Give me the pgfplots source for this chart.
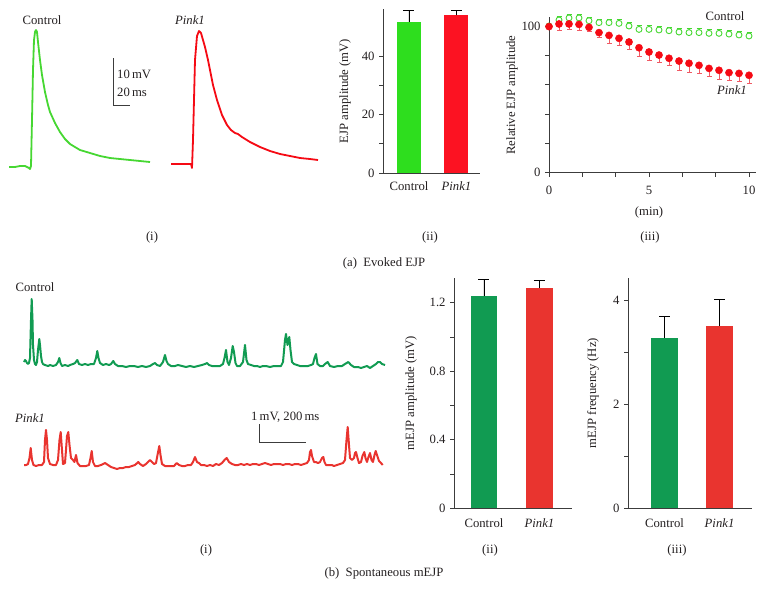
\documentclass[border=0pt]{standalone}
\usepackage{pgfplots}
\pgfplotsset{compat=1.18}
\usepackage{fontspec}
\setmainfont{Liberation Serif}
\definecolor{agreen}{RGB}{46,222,30}
\definecolor{ared}{RGB}{252,18,34}
\definecolor{bgreen}{RGB}{17,155,82}
\definecolor{bred}{RGB}{233,52,47}
\definecolor{tgreen}{RGB}{70,215,50}
\definecolor{tred}{RGB}{245,10,20}
\definecolor{perr}{RGB}{240,90,100}
\definecolor{axgray}{RGB}{60,60,60}
\definecolor{txt}{RGB}{35,31,32}
\pgfplotsset{
  panel/.style={scale only axis, axis lines=left, enlargelimits=false, clip=false,
    axis line style={-, line width=0.8pt, color=axgray},
    tick style={line width=0.8pt, color=axgray},
    major tick length=4pt, minor tick length=4pt, tick align=outside,
    tick label style={font=\fontsize{12.7}{15}\selectfont, color=txt},
    xtick style={draw=none}},
  barerr/.style={error bars/.cd, y dir=plus, y explicit,
    error bar style={black, line width=0.8pt},
    error mark options={rotate=90, mark size=5.5pt, black, line width=0.8pt}}
}
\pgfplotstableread{
t   v     e
0   100   0
0.5 104.1 2.2
1   105.5 2.5
1.5 105.5 2.5
2   103.6 2.5
2.5 102.3 2.5
3   102.3 2.5
3.5 101.8 2.5
4   100.0 2.5
4.5 97.7  2.5
5   97.7  2.5
5.5 97.3  2.5
6   96.8  2.5
6.5 95.9  2.5
7   95.5  2.5
7.5 95.5  2.5
8   95.0  2.5
8.5 95.0  2.5
9   94.5  2.5
9.5 93.9  2.5
10  93.2  2.5
}\ctrltab
\usepackage{pgfplotstable}
\begin{document}
\fontsize{12.7}{15}\selectfont
\begin{tikzpicture}
\path[use as bounding box] (0,0) rectangle (764pt,-591pt);
% ---------- canvas in pixel coordinates ----------
\begin{axis}[at={(382pt,-295.5pt)}, anchor=center, scale only axis, width=764pt, height=591pt,
  xmin=0, xmax=764, ymin=0, ymax=591, y dir=reverse, hide axis, clip=false]
% (a)(i) evoked traces
\addplot[color=tgreen, line width=1.8pt, line join=round] coordinates {
(9,167)(15,167)(20,166)(25,166)(29,168)(30,169)(31,166)(32,120)(33,70)(34,40)(35,32)(36,30)(37,32)(38,42)(40,60)(42,75)(45,92)(48,105)(50,112)(55,123)(60,132)(65,139)(70,144)(80,150)(90,153)(100,156)(110,158)(120,159)(130,160)(140,161)(150,162)};
\addplot[color=tred, line width=1.8pt, line join=round] coordinates {
(171,164)(180,164)(190,164)(191,164)(192,168)(193,140)(194,100)(195,60)(197,36)(199,31)(201,33)(203,40)(205,47)(208,60)(210,70)(213,85)(217,100)(222,115)(227,125)(231,130)(235,133)(238,134)(242,137)(250,142)(260,147)(270,151)(280,154)(290,156)(300,158)(310,159)(318,160)};
\addplot[color=axgray, line width=0.8pt] coordinates {(113,58)(113,105)(130,105)};
\node[txt] at (axis cs:42,20) {Control};
\node[txt] at (axis cs:190,20) {\textit{Pink1}};
\node[txt, anchor=west, inner sep=0pt] at (axis cs:117,74) {10\,mV};
\node[txt, anchor=west, inner sep=0pt] at (axis cs:117,92) {20\,ms};
\node[txt, rotate=90] at (axis cs:345,91) {EJP amplitude (mV)};
\node[txt, rotate=90] at (axis cs:512,95) {Relative EJP amplitude};
\node[txt] at (axis cs:649,212) {(min)};
\node[txt] at (axis cs:725,16) {Control};
\node[txt] at (axis cs:732,90) {\textit{Pink1}};
\node[txt] at (axis cs:152,237) {(i)};
\node[txt] at (axis cs:430,237) {(ii)};
\node[txt] at (axis cs:650,237) {(iii)};
\node[txt] at (axis cs:384,263) {(a)\ \ Evoked EJP};
% (b)(i) spontaneous traces
\addplot[color=bgreen, line width=2pt, line join=round] coordinates {
(24,362)(25,360)(26,361)(27,363)(28,364)(29,363)(30,358)(31,320)(31.7,299)(32.5,320)(33,345)(34,360)(35,364)(36,365)(37,362)(38,350)(39.3,339)(40,345)(41,356)(42,362)(43,364)(45,365)(48,366)(50,365)(53,366)(56,365)(58,362)(59.3,358)(60.5,363)(62,366)(65,365)(68,366)(70,365)(73,364)(75,363)(77.3,360)(79,364)(82,365)(85,364)(88,365)(91,364)(94,364)(96,358)(97.3,351)(98.5,358)(100,363)(103,365)(106,364)(109,365)(111,364)(113.3,361)(115,364)(118,366)(122,366)(126,367)(130,366)(134,366)(138,367)(142,366)(146,367)(150,366)(153,364)(155,363)(157,365)(160,366)(163,362)(165,355)(166.5,361)(168,364)(171,366)(175,366)(178,365)(182,366)(186,367)(190,366)(194,367)(198,366)(202,365)(205,364)(207,363)(209,365)(212,366)(216,366)(220,366)(223,364)(224.5,358)(226,350)(227.5,362)(229,365)(231,358)(232.7,346)(234,352)(235.5,363)(237,366)(240,366)(243,362)(245,345)(246.5,360)(248,364)(251,365)(254,366)(257,366)(260,367)(263,366)(266,366)(270,367)(274,366)(278,366)(281,366)(283,362)(285,340)(286,334)(287.5,345)(289.3,337)(290.5,350)(292,362)(294,364)(297,365)(300,366)(304,366)(308,366)(311,365)(313,364)(314.5,358)(316,354)(317.5,364)(320,366)(323,366)(325,364)(327.7,362)(330,366)(334,367)(338,366)(342,366)(345,364)(348.3,362)(351,365)(354,367)(358,367)(361,368)(364,367)(367,366)(370,368)(373,366)(376,364)(378,362)(380,362)(382,364)(385,365)};
\addplot[color=bred, line width=2pt, line join=round] coordinates {
(24,465)(26,465)(28,464)(29.5,458)(30.7,448)(32,460)(33.5,465)(36,466)(39,465)(42,465)(44,462)(45,440)(46,430)(47,440)(48,458)(50,464)(53,465)(56,465)(58,460)(59.5,440)(60.7,432)(62,450)(63,464)(65,463)(66,450)(67,436)(68.3,432)(69.5,445)(71,458)(73,460)(74.5,462)(76,455)(77.5,463)(80,466)(83,466)(86,466)(89,465)(90.5,458)(91.7,451)(93,462)(95,466)(98,466)(101,465)(103,464)(105,463)(108,465)(111,467)(114,468)(117,469)(120,468)(123,468)(126,467)(129,467)(132,466)(135,465)(138.3,462)(140,464)(143,466)(146,464)(148,462)(150,460)(152,462)(154,464)(156,463)(157.5,455)(159.3,446)(160.5,455)(162,464)(165,466)(168,466)(171,466)(174,466)(176.7,463)(179,465)(182,466)(185,466)(188,465)(191,465)(193,462)(195,457)(197,462)(199,463)(201,465)(204,465)(207,466)(210,465)(213,466)(216,464)(219,465)(222,463)(224.5,460)(226.7,458)(229,462)(232,464)(235,465)(238,465)(241,464)(244,465)(247,464)(250,465)(253,464)(256,464)(259,465)(262,464)(265,463)(268,464)(271,465)(274,464)(277,464)(280,464)(283,465)(286,464)(289,464)(292,465)(295,464)(298,464)(301,465)(304,464)(307,463)(309,460)(310,452)(311,450)(312,456)(314,462)(316,462)(318,463)(320,462)(322,458)(323.3,457)(324.5,462)(326,465)(329,465)(332,465)(334,466)(337,465)(340,464)(343,463)(345,460)(346.5,440)(347.7,427)(349,445)(350,458)(352,460)(354,458)(355,453)(356,452)(357.5,458)(359,463)(361,462)(362.5,456)(364.3,452)(365.5,458)(367,462)(368.5,457)(370,453)(371.5,460)(373,462)(374.5,455)(375.7,451)(377,455)(379,461)(381,463)(382.7,465)};
\addplot[color=axgray, line width=0.8pt] coordinates {(259,424)(259,442)(306,442)};
\node[txt] at (axis cs:35,287) {Control};
\node[txt] at (axis cs:30,418) {\textit{Pink1}};
\node[txt, anchor=west, inner sep=0pt] at (axis cs:251,417) {1\,mV, 200\,ms};
\node[txt, rotate=90] at (axis cs:411,393) {mEJP amplitude (mV)};
\node[txt, rotate=90] at (axis cs:593,393) {mEJP frequency (Hz)};
\node[txt] at (axis cs:206,550) {(i)};
\node[txt] at (axis cs:490,550) {(ii)};
\node[txt] at (axis cs:677,550) {(iii)};
\node[txt] at (axis cs:384,573) {(b)\ \ Spontaneous mEJP};
\end{axis}
% ---------- (a)(ii) ----------
\begin{axis}[panel, at={(431.5pt,-91.1pt)}, anchor=center, width=97pt, height=163.8pt,
  xmin=-0.547, xmax=1.495, ymin=0, ymax=56,
  xtick={0,1}, xticklabels={Control,\textit{Pink1}},
  ytick={0,20,40}, yticklabels={0,20,40}, minor ytick={10,30}]
\addplot[ybar, bar width=24pt, fill=agreen, draw=none, barerr] coordinates {(0,51.7) +- (0,4.0)};
\addplot[ybar, bar width=24pt, fill=ared, draw=none, barerr] coordinates {(1,53.9) +- (0,1.6)};
\end{axis}
% ---------- (a)(iii) ----------
\begin{axis}[panel, at={(652.5pt,-94.95pt)}, anchor=center, width=207pt, height=155.5pt,
  xmin=0, xmax=10.35, ymin=0, ymax=106,
  xtick={0,5,10}, xticklabels={0,5,10}, minor xtick={1.6667,3.3333,6.6667,8.3333},
  xtick style={draw=axgray}, xticklabel style={yshift=-5pt},
  ytick={0,100}, yticklabels={0,100}, minor ytick={20,40,60,80}]
\addplot[draw=none, mark=none,
  error bars/.cd, y dir=plus, y explicit,
  error bar style={color=tgreen, line width=0.9pt},
  error mark options={rotate=90, mark size=2.5pt, color=tgreen, line width=0.9pt}]
  table[x=t, y=v, y error=e] {\ctrltab};
\addplot[only marks, mark=*, mark size=3pt, mark options={fill=white, draw=tgreen, line width=0.9pt}]
  table[x=t, y=v] {\ctrltab};
\addplot[only marks, mark=*, mark size=3.6pt, color=tred,
  error bars/.cd, y dir=minus, y explicit,
  error bar style={color=perr, line width=1pt},
  error mark options={rotate=90, mark size=2.5pt, color=perr, line width=1pt}]
coordinates {
(0,99.6) +- (0,0) (0.5,101.4) +- (0,4.5) (1,101.4) +- (0,3.6) (1.5,101.1) +- (0,4.4) (2,99.1) +- (0,2.7)
(2.5,95.5) +- (0,3.2) (3,93.6) +- (0,5.5) (3.5,91.6) +- (0,5.2) (4,89.1) +- (0,5.0) (4.5,85.2) +- (0,6.1)
(5,82.3) +- (0,5.5) (5.5,80.2) +- (0,5.2) (6,78.0) +- (0,5.2) (6.5,76.1) +- (0,6.1) (7,74.6) +- (0,6.4)
(7.5,73.2) +- (0,5.5) (8,71.1) +- (0,5.7) (8.5,69.8) +- (0,6.1) (9,68.2) +- (0,5.5) (9.5,67.7) +- (0,5.5) (10,66.4) +- (0,5.9)};
\end{axis}
% ---------- (b)(ii) ----------
\begin{axis}[panel, at={(513pt,-393.15pt)}, anchor=center, width=118pt, height=230.3pt,
  xmin=-0.54, xmax=1.586, ymin=0, ymax=1.345,
  xtick={0,1}, xticklabels={Control,\textit{Pink1}}, xticklabel style={yshift=-2pt},
  ytick={0,0.4,0.8,1.2}, yticklabels={0,0.4,0.8,1.2}, minor ytick={0.2,0.6,1.0}]
\addplot[ybar, bar width=26.5pt, fill=bgreen, draw=none, barerr] coordinates {(0,1.241) +- (0,0.096)};
\addplot[ybar, bar width=26.5pt, fill=bred, draw=none, barerr] coordinates {(1,1.288) +- (0,0.041)};
\end{axis}
% ---------- (b)(iii) ----------
\begin{axis}[panel, at={(690pt,-393.35pt)}, anchor=center, width=124pt, height=229.9pt,
  xmin=-0.664, xmax=1.59, ymin=0, ymax=4.43,
  xtick={0,1}, xticklabels={Control,\textit{Pink1}}, xticklabel style={yshift=-2pt},
  ytick={0,2,4}, yticklabels={0,2,4}, minor ytick={1,3}]
\addplot[ybar, bar width=27pt, fill=bgreen, draw=none, barerr] coordinates {(0,3.29) +- (0,0.40)};
\addplot[ybar, bar width=27pt, fill=bred, draw=none, barerr] coordinates {(1,3.52) +- (0,0.51)};
\end{axis}
\end{tikzpicture}
\end{document}
